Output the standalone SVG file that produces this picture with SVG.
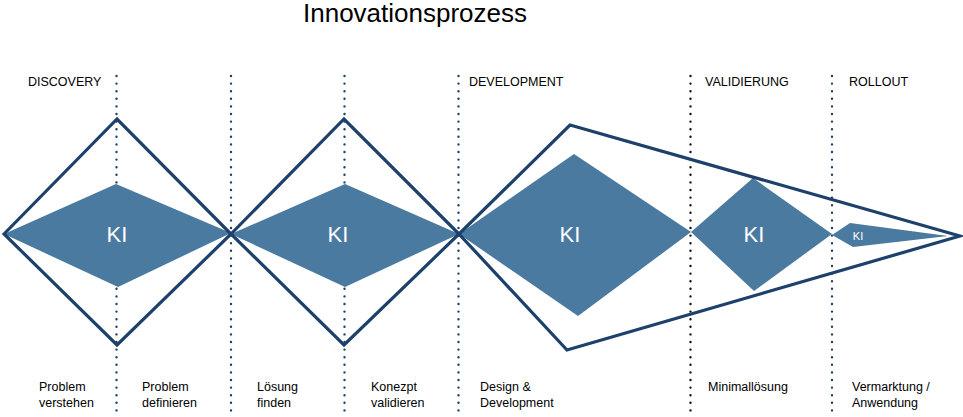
<svg xmlns="http://www.w3.org/2000/svg" width="963" height="417" viewBox="0 0 963 417">
<style>
.t{font-family:"Liberation Sans",Arial,sans-serif;fill:#000}
.h{font-size:12.5px}
.b{font-size:12.5px}
.ki{font-family:"Liberation Sans",Arial,sans-serif;fill:#fff;text-anchor:middle}
.out{fill:none;stroke:#1d416b;stroke-width:3.2;stroke-linejoin:miter}
.fill{fill:#4a7aa0}
.dot{stroke:#1d416b;stroke-width:2.4;stroke-linecap:round;stroke-dasharray:0 7.6;fill:none}
.dotk{stroke:#111;stroke-width:2.4;stroke-linecap:round;stroke-dasharray:0 7.6;fill:none}
</style>
<rect width="963" height="417" fill="#fff"/>
<text class="t" x="415" y="22" font-size="26" text-anchor="middle">Innovationsprozess</text>
<g id="headers">
<text class="t h" x="28" y="86">DISCOVERY</text>
<text class="t h" x="469" y="86">DEVELOPMENT</text>
<text class="t h" x="705" y="86">VALIDIERUNG</text>
<text class="t h" x="849" y="86">ROLLOUT</text>
</g>
<g id="dividers">
<line class="dot" x1="116.5" y1="76" x2="116.5" y2="417"/>
<line class="dot" x1="231" y1="76" x2="231" y2="417"/>
<line class="dot" x1="344.5" y1="76" x2="344.5" y2="417"/>
<line class="dot" x1="458.5" y1="76" x2="458.5" y2="417"/>
<line class="dotk" x1="690.5" y1="76" x2="690.5" y2="417"/>
<line class="dot" x1="832" y1="76" x2="832" y2="417"/>
</g>
<g id="ki1">
<polygon class="fill" points="4,234 116,184 231,233 118,287"/>
<text class="ki" x="117" y="242" font-size="22">KI</text>
</g>
<g id="ki2">
<polygon class="fill" points="231,234 345,184 459,234 345,287"/>
<text class="ki" x="338" y="242" font-size="22">KI</text>
</g>
<g id="ki3">
<polygon class="fill" points="459,234 574,154 691,232 578,316"/>
<text class="ki" x="570" y="242" font-size="22">KI</text>
</g>
<g id="ki4">
<polygon class="fill" points="691,232 753,178 832,234 754,291"/>
<text class="ki" x="754" y="242" font-size="22">KI</text>
</g>
<g id="ki5">
<polygon class="fill" points="832,235 850,223 948,236 853,247"/>
<text class="ki" x="858" y="240" font-size="11">KI</text>
</g>
<g id="outlines">
<polygon class="out" points="4,234 117,119 231,234 117,345"/>
<polygon class="out" points="231,234 344,119 459,234 344,345"/>
<polygon class="out" points="459,234 570,125 960,236 567,350"/>
</g>
<g id="labels">
<text class="t b" x="39" y="391">Problem</text>
<text class="t b" x="39" y="407">verstehen</text>
<text class="t b" x="142" y="391">Problem</text>
<text class="t b" x="142" y="407">definieren</text>
<text class="t b" x="257" y="391">Lösung</text>
<text class="t b" x="257" y="407">finden</text>
<text class="t b" x="371" y="391">Konezpt</text>
<text class="t b" x="371" y="407">validieren</text>
<text class="t b" x="480" y="391">Design &amp;</text>
<text class="t b" x="480" y="407">Development</text>
<text class="t b" x="708" y="391">Minimallösung</text>
<text class="t b" x="852" y="391">Vermarktung /</text>
<text class="t b" x="852" y="407">Anwendung</text>
</g>
</svg>
